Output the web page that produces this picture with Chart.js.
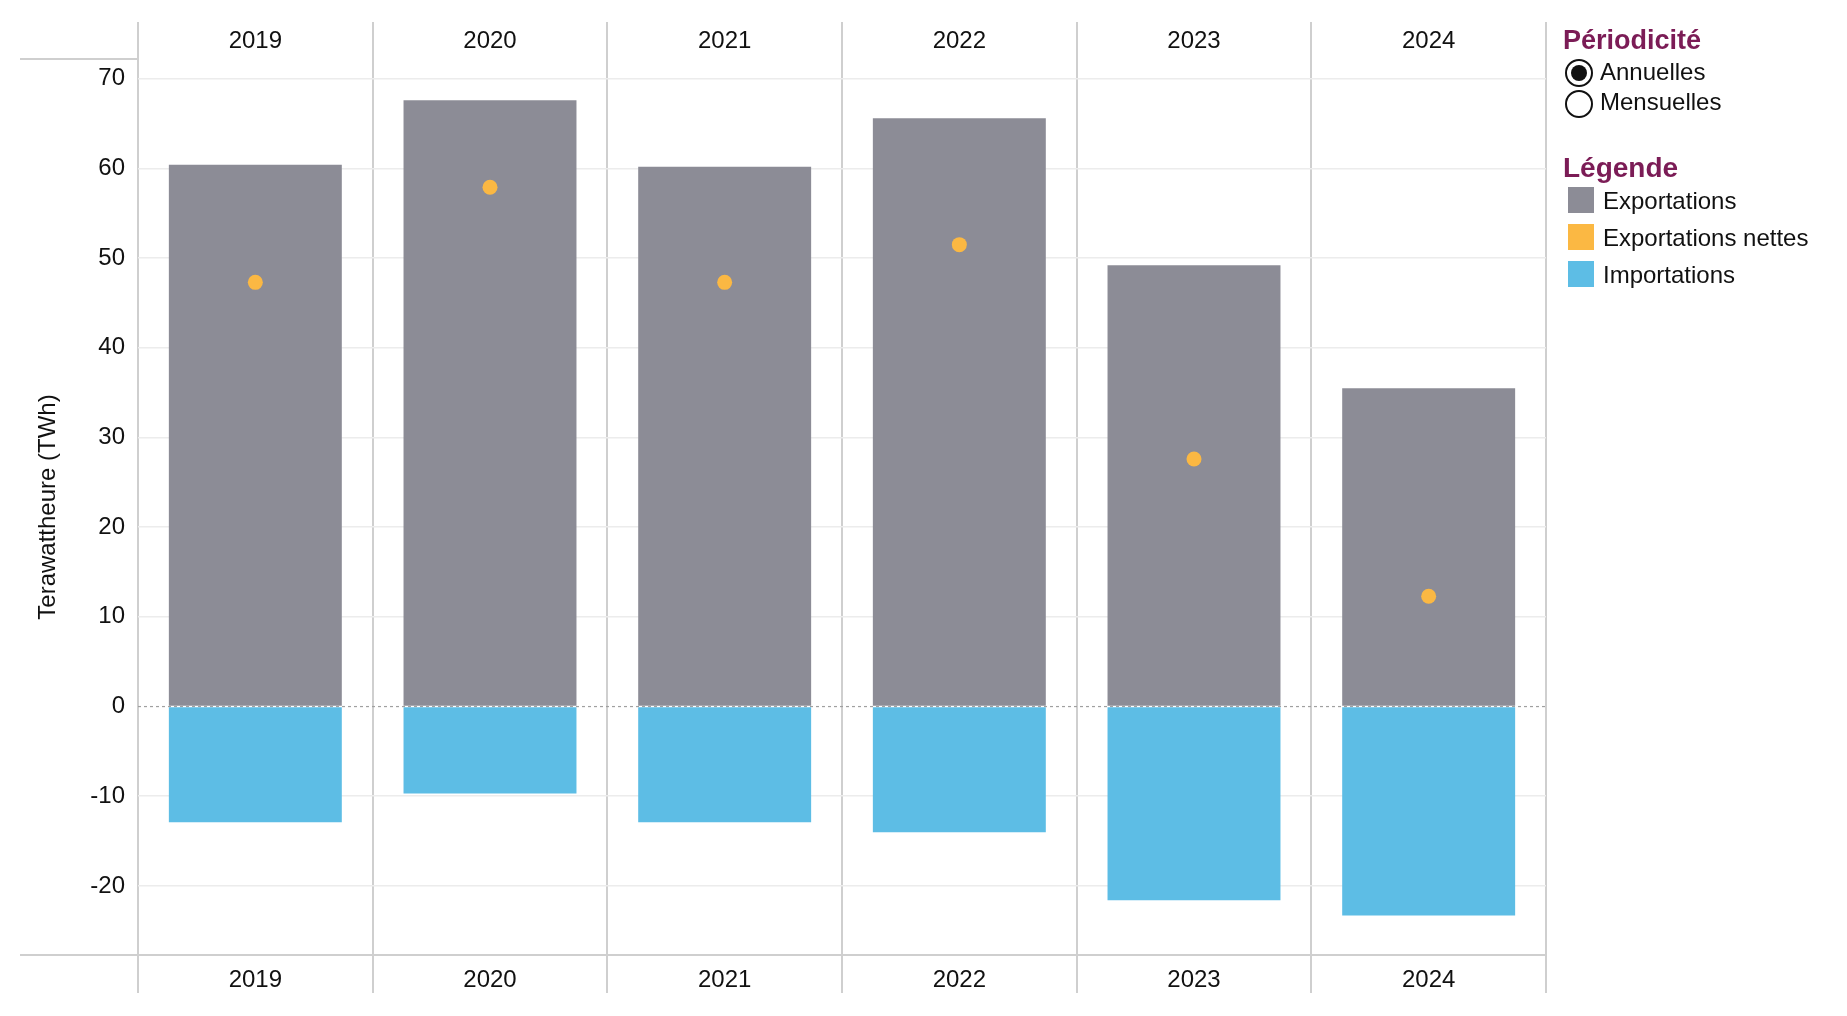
<!DOCTYPE html>
<html lang="fr">
<head>
<meta charset="utf-8">
<script src="https://cdn.jsdelivr.net/npm/chart.js@4"></script>
<style>
	body { margin: 0; background: #fff; font-family: "Liberation Sans", Arial, sans-serif; }
	#wrap { position: relative; width: 1847px; height: 1016px; }
	#legende { position: absolute; left: 0; top: 0; }
	.titre { position: absolute; color: #7b1c56; font-weight: bold; white-space: nowrap; }
	.item { position: absolute; font-size: 24px; line-height: 26px; color: #111; white-space: nowrap; }
	.radio { position: absolute; width: 24px; height: 24px; border: 2px solid #111; border-radius: 50%; background: #fff; }
	.radio.on::after { content: ""; position: absolute; left: 4px; top: 4px; width: 16px; height: 16px; border-radius: 50%; background: #111; }
	.carre { position: absolute; width: 26px; height: 26px; }
</style>
</head>
<body>
<div id="wrap">
	<canvas id="myChart"></canvas>
	<div id="legende">
		<div class="titre" style="left:1563px; top:25px; font-size:27px; line-height:30px;">Périodicité</div>
		<div class="radio on" style="left:1565px; top:59px;"></div>
		<div class="item" style="left:1600px; top:59px;">Annuelles</div>
		<div class="radio" style="left:1565px; top:90px;"></div>
		<div class="item" style="left:1600px; top:89px;">Mensuelles</div>

		<div class="titre" style="left:1563px; top:152px; font-size:28px; line-height:32px;">Légende</div>
		<div class="carre" style="left:1568px; top:187px; background:#8c8c96;"></div>
		<div class="item" style="left:1603px; top:188px;">Exportations</div>
		<div class="carre" style="left:1568px; top:224px; background:#fbb843;"></div>
		<div class="item" style="left:1603px; top:225px;">Exportations nettes</div>
		<div class="carre" style="left:1568px; top:261px; background:#5dbde5;"></div>
		<div class="item" style="left:1603px; top:262px;">Importations</div>
	</div>
</div>
<script>
// données (TWh)
var annees = ['2019', '2020', '2021', '2022', '2023', '2024'];
var exportations = [60.4, 67.6, 60.2, 65.6, 49.2, 35.5];
var importations = [-12.9, -9.7, -12.9, -14.0, -21.6, -23.3];
var exportationsNettes = [47.3, 57.9, 47.3, 51.5, 27.6, 12.3];
var yTicks = [-20, -10, 0, 10, 20, 30, 40, 50, 60, 70];

var couleurLigne = '#cfcfcf';

// lignes d'en-tête / pied + ligne zéro pointillée
var lignesPlugin = {
	id: 'lignes',
	beforeDatasetsDraw: function(chart) {
		var ctx = chart.ctx;
		var area = chart.chartArea;
		var y0 = chart.scales.y.getPixelForValue(0);
		ctx.save();
		ctx.strokeStyle = '#a0a0a0';
		ctx.lineWidth = 1.2;
		ctx.setLineDash([3, 3]);
		ctx.beginPath();
		ctx.moveTo(area.left, y0);
		ctx.lineTo(area.right, y0);
		ctx.stroke();
		ctx.restore();
	},
	afterDraw: function(chart) {
		var ctx = chart.ctx;
		var area = chart.chartArea;
		ctx.save();
		ctx.strokeStyle = couleurLigne;
		ctx.lineWidth = 2;
		ctx.beginPath();
		ctx.moveTo(20, area.top);
		ctx.lineTo(area.left, area.top);
		ctx.moveTo(20, area.bottom);
		ctx.lineTo(area.left, area.bottom);
		ctx.stroke();
		ctx.restore();
	}
};

var police = { family: '"Liberation Sans", Arial, sans-serif', size: 24 };

var ctx = document.getElementById('myChart').getContext('2d');
var myChart = new Chart(ctx, {
	type: 'bar',
	data: {
		labels: annees,
		datasets: [{
			type: 'line',
			label: 'Exportations nettes',
			data: exportationsNettes,
			showLine: false,
			pointRadius: 7.5,
			pointBackgroundColor: '#fbb843',
			pointBorderWidth: 0,
			order: 0
		}, {
			label: 'Exportations',
			data: exportations,
			backgroundColor: '#8c8c96',
			grouped: false,
			barPercentage: 0.737,
			categoryPercentage: 1,
			order: 1
		}, {
			label: 'Importations',
			data: importations,
			backgroundColor: '#5dbde5',
			grouped: false,
			barPercentage: 0.737,
			categoryPercentage: 1,
			order: 1
		}]
	},
	plugins: [lignesPlugin],
	options: {
		responsive: true,
		maintainAspectRatio: false,
		animation: false,
		layout: { padding: { top: 22, bottom: 23, left: 0, right: 301 } },
		plugins: {
			legend: { display: false },
			tooltip: { enabled: false }
		},
		scales: {
			x: {
				type: 'category',
				position: 'bottom',
				offset: true,
				grid: { offset: true, color: couleurLigne, lineWidth: 2, tickLength: 38 },
				border: { display: true, color: couleurLigne, width: 2 },
				ticks: { color: '#111', font: police, padding: -27.5, maxRotation: 0 },
				afterFit: function(scale) { scale.height = 38; }
			},
			xTop: {
				type: 'category',
				position: 'top',
				labels: annees,
				offset: true,
				grid: { offset: true, color: couleurLigne, lineWidth: 2, tickLength: 37, drawOnChartArea: false },
				border: { display: false },
				ticks: { color: '#111', font: police, padding: -34, maxRotation: 0 },
				afterFit: function(scale) { scale.height = 37; }
			},
			y: {
				min: -27.7,
				max: 72.2,
				grid: {
					color: function(c) { return c.tick && c.tick.value === 0 ? 'rgba(0,0,0,0)' : '#ececec'; },
					lineWidth: 1.5,
					drawTicks: false
				},
				border: { display: false },
				ticks: { color: '#111', font: police, padding: 13 },
				afterBuildTicks: function(scale) {
					scale.ticks = yTicks.map(function(v) { return { value: v }; });
				},
				afterFit: function(scale) { scale.width = 138; },
				title: {
					display: true,
					text: 'Terawattheure (TWh)',
					color: '#111',
					font: police,
					padding: { top: 34, bottom: 0 }
				}
			}
		}
	}
});
</script>
</body>
</html>
